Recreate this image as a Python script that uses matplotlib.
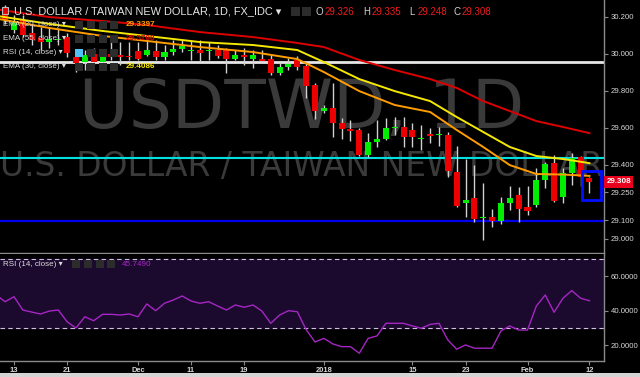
import matplotlib
matplotlib.use("Agg")
import matplotlib.pyplot as plt
import matplotlib.transforms as mtransforms
from matplotlib.patches import Rectangle
import numpy as np

plt.rcParams["font.family"] = ["Liberation Sans", "DejaVu Sans"]

# daily candles, index 0 = 13 Nov 2017, index 65 = 12 Feb 2018
day_index = np.arange(-1, 66)
opens = [30.252, 30.128, 30.182, 30.112, 30.085, 30.063, 30.072, 30.090, 29.982, 29.955,
         29.998, 29.955, 29.998, 29.993, 29.990, 30.015, 29.993, 30.015, 29.982, 30.010,
         30.025, 30.013, 30.020, 30.013, 30.020, 30.020, 29.971, 29.993, 29.971, 29.971,
         29.971, 29.895, 29.928, 29.966, 29.934, 29.831, 29.690, 29.707, 29.625, 29.593,
         29.588, 29.453, 29.523, 29.539, 29.597, 29.604, 29.588, 29.538, 29.566, 29.560,
         29.561, 29.361, 29.193, 29.220, 29.111, 29.117, 29.096, 29.193, 29.236, 29.172,
         29.182, 29.317, 29.409, 29.225, 29.355, 29.442, 29.326]
highs = [30.262, 30.209, 30.209, 30.155, 30.144, 30.144, 30.139, 30.112, 30.009, 30.020,
         30.031, 30.020, 30.074, 30.063, 30.063, 30.063, 30.074, 30.074, 30.047, 30.074,
         30.074, 30.074, 30.074, 30.063, 30.047, 30.031, 30.020, 30.031, 30.020, 30.020,
         29.998, 29.955, 29.977, 29.988, 29.955, 29.842, 29.723, 29.842, 29.653, 29.642,
         29.599, 29.572, 29.642, 29.653, 29.658, 29.658, 29.625, 29.615, 29.599, 29.604,
         29.577, 29.501, 29.431, 29.398, 29.301, 29.161, 29.225, 29.285, 29.280, 29.285,
         29.382, 29.415, 29.453, 29.382, 29.463, 29.445, 29.335]
lows = [30.160, 30.112, 30.090, 30.047, 30.020, 30.031, 30.047, 29.982, 29.901, 29.912,
        29.944, 29.950, 29.966, 29.939, 29.966, 29.966, 29.988, 29.966, 29.966, 29.993,
        30.009, 29.966, 29.955, 29.966, 29.977, 29.895, 29.966, 29.939, 29.923, 29.950,
        29.885, 29.885, 29.912, 29.912, 29.761, 29.647, 29.680, 29.550, 29.539, 29.528,
        29.447, 29.442, 29.496, 29.535, 29.561, 29.496, 29.496, 29.479, 29.517, 29.501,
        29.334, 29.172, 29.117, 29.090, 28.993, 29.063, 29.080, 29.155, 29.090, 29.128,
        29.172, 29.274, 29.198, 29.193, 29.290, 29.285, 29.248]
closes = [30.182, 30.171, 30.101, 30.074, 30.063, 30.080, 30.076, 30.004, 29.950, 29.993,
          29.955, 29.988, 29.982, 29.982, 29.980, 29.971, 30.020, 29.982, 30.010, 30.025,
          30.040, 30.016, 30.004, 30.016, 29.988, 29.971, 29.993, 29.982, 29.993, 29.961,
          29.895, 29.928, 29.944, 29.928, 29.826, 29.690, 29.707, 29.625, 29.593, 29.582,
          29.453, 29.523, 29.539, 29.599, 29.600, 29.550, 29.550, 29.541, 29.555, 29.563,
          29.366, 29.177, 29.209, 29.107, 29.114, 29.096, 29.193, 29.220, 29.161, 29.150,
          29.317, 29.404, 29.204, 29.355, 29.436, 29.334, 29.308]

# moving averages
ema_days = [-2, 4, 10, 15, 21, 27, 32, 35, 39, 43, 47, 50, 53, 56, 59, 62, 65]
ema20 = [30.190, 30.139, 30.096, 30.069, 30.036, 30.009, 29.971, 29.901, 29.798, 29.723,
         29.685, 29.588, 29.496, 29.398, 29.350, 29.347, 29.3397]
ema30 = [30.205, 30.161, 30.123, 30.096, 30.063, 30.047, 30.020, 29.955, 29.863, 29.798,
         29.744, 29.658, 29.577, 29.496, 29.447, 29.431, 29.4086]
ema55 = [30.240, 30.198, 30.177, 30.155, 30.117, 30.090, 30.058, 30.036, 29.966, 29.912,
         29.863, 29.815, 29.744, 29.690, 29.636, 29.604, 29.5708]

rsi_days = np.arange(-2, 66)
rsi = [49.0, 45.2, 48.1, 40.4, 39.2, 38.1, 39.8, 40.4, 33.6, 30.0,
       36.5, 34.2, 37.9, 37.9, 37.5, 38.1, 36.5, 43.9, 40.0, 44.3,
       46.2, 48.5, 45.6, 44.3, 45.2, 42.7, 40.4, 43.3, 42.0, 43.3,
       39.8, 32.7, 37.5, 40.0, 39.4, 29.0, 21.9, 24.0, 20.8, 19.2,
       19.2, 15.4, 24.0, 25.4, 32.7, 32.7, 32.7, 31.2, 29.8, 32.1,
       32.7, 23.1, 17.7, 20.2, 18.3, 18.3, 18.3, 28.3, 31.2, 28.8,
       28.8, 42.7, 49.1, 39.1, 47.2, 51.6, 47.2, 45.749]

level_support = 29.095
level_mid = 29.438
level_resist = 29.955

tick_pos = [0, 6, 14, 20, 26, 35, 45, 51, 58, 65]
tick_labels = ["13", "21", "Dec", "11", "19", "2018", "15", "23", "Feb", "12"]
price_ticks = [29.0, 29.1, 29.25, 29.4, 29.6, 29.8, 30.0, 30.2]
rsi_ticks = [20, 40, 60]

W, H = 640, 377
GRID = "#8a8a8a"
TXT = "#d8d8d8"


def fx(x):
    return x / W


def fy(y):
    return 1 - y / H


fig = plt.figure(figsize=(6.4, 3.77), dpi=100, facecolor="black")
ax = fig.add_axes([0, fy(253), 604 / W, 253 / H], facecolor="black")
ax2 = fig.add_axes([0, fy(361), 604 / W, 107 / H], facecolor="black")

xlim = (-1.58, 66.64)

# watermark
ax.text(0.5, 0.494, "USDTWD, 1D", transform=ax.transAxes, ha="center",
        va="baseline", fontsize=49, color="#3a3a3a", family="DejaVu Sans", zorder=0)
ax.text(0.5, 0.304, "U.S. DOLLAR / TAIWAN NEW DOLLAR", transform=ax.transAxes,
        ha="center", va="baseline", fontsize=23.7, color="#3a3a3a",
        family="DejaVu Sans", zorder=0)

# horizontal levels
ax.axhline(level_resist, color="#e6e6e6", lw=2, zorder=1)
ax.axhline(level_mid, color="#00e0e0", lw=1.5, zorder=1)
ax.axhline(level_support, color="#0000ee", lw=1.6, zorder=1)

# candles
o = np.array(opens)
c = np.array(closes)
colors = ["#00ee00" if cl >= op else "#ee0000" for op, cl in zip(o, c)]
bottoms = np.minimum(o, c)
heights = np.maximum(np.abs(c - o), 0.008)
ax.vlines(day_index, lows, highs, color="#d0d0d0", lw=1, zorder=2)
ax.bar(day_index, heights, bottom=bottoms, width=0.68, color=colors, zorder=3)

# moving averages
ax.plot(ema_days, ema55, color="#dd0000", lw=1.4, zorder=4)
ax.plot(ema_days, ema30, color="#f5e800", lw=1.4, zorder=4)
ax.plot(ema_days, ema20, color="#ff9d00", lw=1.4, zorder=4)

# drawn box
ax.add_patch(Rectangle((64.1, 29.209), 2.15, 0.157, fill=False, ec="#0010ff",
                       lw=2, zorder=5))

ax.set_xlim(*xlim)
ax.set_ylim(28.923, 30.2903)
ax.yaxis.tick_right()
ax.set_yticks(price_ticks)
ax.set_yticklabels([f"{v:.3f}" for v in price_ticks])
ax.tick_params(axis="y", colors=GRID, labelcolor=TXT, length=3, width=0.8,
               labelsize=5.6, pad=2)
ax.tick_params(axis="x", bottom=False, labelbottom=False)
for side in ["left", "top"]:
    ax.spines[side].set_visible(False)
for side in ["right", "bottom"]:
    ax.spines[side].set_color(GRID)
    ax.spines[side].set_linewidth(1)

# last price tag
blend = mtransforms.blended_transform_factory(ax.transAxes, ax.transData)
ax.text(1.004, closes[-1], f"{closes[-1]:.3f}", transform=blend, ha="left",
        va="center", fontsize=5.8, fontweight="bold", color="white", clip_on=False,
        bbox=dict(boxstyle="square,pad=0.3", fc="#e8001c", ec="none"), zorder=10)

# RSI panel
ax2.axhspan(30, 70, color="#1c0a2e", zorder=0)
ax2.axhline(70, color="#cfc0de", lw=0.8, ls=(0, (4, 3)), zorder=1)
ax2.axhline(30, color="#cfc0de", lw=0.8, ls=(0, (4, 3)), zorder=1)
ax2.plot(rsi_days, rsi, color="#a526c4", lw=1.0, zorder=2)
ax2.set_xlim(*xlim)
ax2.set_ylim(10.9, 72.8)
ax2.yaxis.tick_right()
ax2.set_yticks(rsi_ticks)
ax2.set_yticklabels([f"{v:.4f}" for v in rsi_ticks])
ax2.set_xticks(tick_pos)
ax2.set_xticklabels(tick_labels)
ax2.tick_params(axis="y", colors=GRID, labelcolor=TXT, length=3, width=0.8,
                labelsize=5.6, pad=2)
ax2.tick_params(axis="x", colors=GRID, labelcolor=TXT, length=3, width=0.8,
                labelsize=5.4, pad=1.5)
for lab in ax2.get_xticklabels():
    lab.set_fontweight("bold")
for side in ["left", "top"]:
    ax2.spines[side].set_visible(False)
for side in ["right", "bottom"]:
    ax2.spines[side].set_color(GRID)
    ax2.spines[side].set_linewidth(1)

# header texts
fig.text(fx(14), fy(11), "U.S. DOLLAR / TAIWAN NEW DOLLAR, 1D, FX_IDC \u25be",
         fontsize=7.9, color="#e4e4e4", va="center")
fig.patches.append(Rectangle((fx(2), fy(14)), 6 / W, 7 / H, fill=False,
                             ec="#bbbbbb", lw=0.8, transform=fig.transFigure))
for bx in [291, 302]:
    fig.patches.append(Rectangle((fx(bx), fy(16)), 9 / W, 9 / H, fc="#2c2c2c",
                                 ec="none", transform=fig.transFigure))

ohlc = [("O", 316, "29.326"), ("H", 363, "29.335"), ("L", 409, "29.248"),
        ("C", 453, "29.308")]
for letter, x0, val in ohlc:
    fig.text(fx(x0), fy(12), letter, fontsize=7, color="#d0d0d0", va="center")
    fig.text(fx(x0 + 9), fy(12), val, fontsize=7, color="#ee1c1c", va="center")

legend_rows = [("EMA (20, close) \u25be", 25, "29.3397", "#ff9d00"),
               ("EMA (55, close) \u25be", 39, "29.5708", "#dd0000"),
               ("RSI (14, close) \u25be", 53, None, None),
               ("EMA (30, close) \u25be", 67, "29.4086", "#f5e800")]
for label, yy, val, col in legend_rows:
    fig.text(fx(3), fy(yy), label, fontsize=5.8, color="#dcdcdc", va="center")
    for k, bx in enumerate([75, 87, 99, 110]):
        fc = "#4fc3f7" if (val is None and k == 0) else "#2c2c2c"
        fig.patches.append(Rectangle((fx(bx), fy(yy + 4)), 8 / W, 8 / H, fc=fc,
                                     ec="none", transform=fig.transFigure))
    if val is not None:
        fig.text(fx(126), fy(yy), val, fontsize=5.9, fontweight="bold", color=col,
                 va="center")

fig.text(fx(3), fy(264), "RSI (14, close) \u25be", fontsize=5.8, color="#dcdcdc",
         va="center")
for bx in [72, 84, 96, 107]:
    fig.patches.append(Rectangle((fx(bx), fy(268)), 8 / W, 8 / H, fc="#2c2c2c",
                                 ec="none", transform=fig.transFigure))
fig.text(fx(122), fy(264), "45.7490", fontsize=5.9, color="#a526c4", va="center")

# light strip at the very bottom
fig.patches.append(Rectangle((0, 0), 1, 4 / H, fc="#d4d4d4", ec="none",
                             transform=fig.transFigure))

fig.savefig("out.png", dpi=100, facecolor="black")
